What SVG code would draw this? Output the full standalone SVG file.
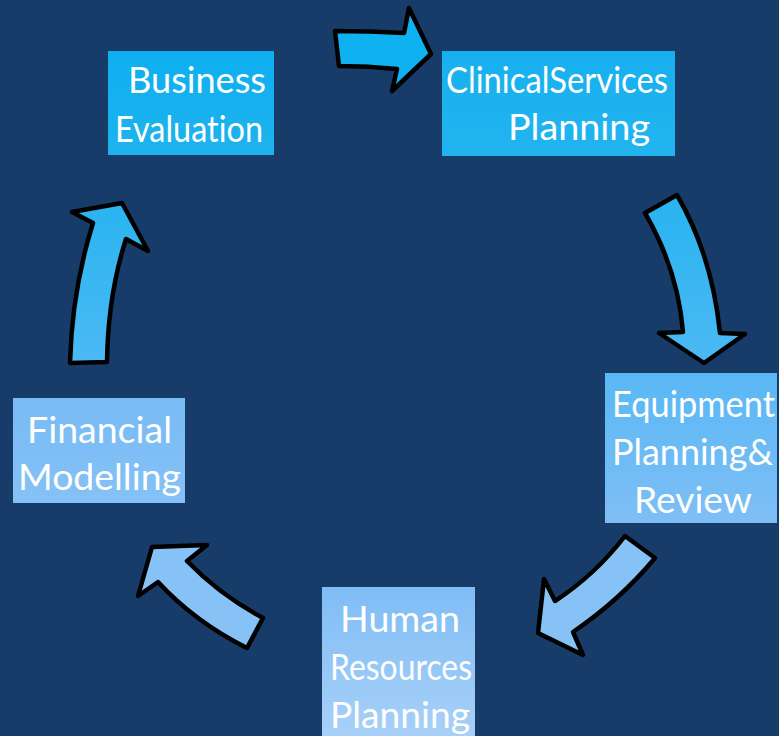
<svg xmlns="http://www.w3.org/2000/svg" width="779" height="736" viewBox="0 0 779 736">
<defs>
<linearGradient id="gBiz" x1="0" y1="0" x2="0" y2="1"><stop offset="0" stop-color="#0eaff0"/><stop offset="1" stop-color="#1eb3ee"/></linearGradient>
<linearGradient id="gClin" x1="0" y1="0" x2="0" y2="1"><stop offset="0" stop-color="#17b0ef"/><stop offset="1" stop-color="#22b4ef"/></linearGradient>
<linearGradient id="gEq" x1="0" y1="0" x2="0" y2="1"><stop offset="0" stop-color="#58b8f5"/><stop offset="1" stop-color="#7fbef5"/></linearGradient>
<linearGradient id="gHr" x1="0" y1="0" x2="0" y2="1"><stop offset="0" stop-color="#7fbdf5"/><stop offset="1" stop-color="#a8d0f8"/></linearGradient>
<linearGradient id="gFin" x1="0" y1="0" x2="0" y2="1"><stop offset="0" stop-color="#79bbf5"/><stop offset="1" stop-color="#84c1f6"/></linearGradient>
<linearGradient id="gA2" x1="0" y1="0" x2="0" y2="1"><stop offset="0" stop-color="#28b3f0"/><stop offset="1" stop-color="#4cb9f4"/></linearGradient>
<linearGradient id="gA5" x1="0" y1="0" x2="0" y2="1"><stop offset="0" stop-color="#2ab4f0"/><stop offset="1" stop-color="#4bb9f4"/></linearGradient>
</defs>
<style>
.lbl{font-family:Lato,"Open Sans","Liberation Sans",sans-serif;font-size:36px;fill:#ffffff;font-variant-ligatures:none;font-feature-settings:"liga" 0;}
.arr{stroke:#000000;stroke-width:4.5;stroke-linejoin:round;}
</style>
<rect width="779" height="736" fill="#183c69"/>
<g id="connectors">
<path class="arr" fill="#10b1f0" d="M335,31 Q370,31 404,33 L409,8 L431,54 L392,91 L397,69 Q368,66 339,66 Z"/>
<path class="arr" fill="url(#gA2)" d="M645,213 L677,195 Q712,255 720,333 L745,334 L704,363 L659,333 L683,332 Q678,270 645,213 Z"/>
<path class="arr" fill="#86c2f6" d="M625,536 L655,558 Q620,600 573,632 L583,655 L538,633 L544,579 L555,601 Q595,575 625,536 Z"/>
<path class="arr" fill="#86c2f6" d="M152,547 L207,545 L187,561 Q220,595 263,618 L247,648 Q195,622 158,582 L138,596 Z"/>
<path class="arr" fill="url(#gA5)" d="M70,363 L107,362 Q108,295 126,239 L148,251 L122,203 L72,212 L93,223 Q72,290 70,363 Z"/>
</g>
<g id="node-business">
<rect x="108" y="51" width="166" height="104" fill="url(#gBiz)"/>
<text class="lbl" x="128" y="93" textLength="138" lengthAdjust="spacingAndGlyphs">Business</text>
<text class="lbl" x="115" y="142" textLength="148" lengthAdjust="spacingAndGlyphs">Evaluation</text>
</g>
<g id="node-clinical">
<rect x="442" y="51" width="233" height="105" fill="url(#gClin)"/>
<text class="lbl" x="446" y="93" textLength="222" lengthAdjust="spacingAndGlyphs">ClinicalServices</text>
<text class="lbl" x="508" y="140" textLength="142" lengthAdjust="spacingAndGlyphs">Planning</text>
</g>
<g id="node-equipment">
<rect x="605" y="373" width="172" height="150" fill="url(#gEq)"/>
<text class="lbl" x="612" y="417" textLength="163" lengthAdjust="spacingAndGlyphs">Equipment</text>
<text class="lbl" x="612" y="465" textLength="161" lengthAdjust="spacingAndGlyphs">Planning&amp;</text>
<text class="lbl" x="634" y="513" textLength="118" lengthAdjust="spacingAndGlyphs">Review</text>
</g>
<g id="node-hr">
<rect x="322" y="587" width="153" height="149" fill="url(#gHr)"/>
<text class="lbl" x="340" y="632" textLength="120" lengthAdjust="spacingAndGlyphs">Human</text>
<text class="lbl" x="330" y="680" textLength="142" lengthAdjust="spacingAndGlyphs">Resources</text>
<text class="lbl" x="330" y="728" textLength="140" lengthAdjust="spacingAndGlyphs">Planning</text>
</g>
<g id="node-financial">
<rect x="13" y="398" width="172" height="105" fill="url(#gFin)"/>
<text class="lbl" x="27" y="443" textLength="145" lengthAdjust="spacingAndGlyphs">Financial</text>
<text class="lbl" x="18" y="490" textLength="163" lengthAdjust="spacingAndGlyphs">Modelling</text>
</g>
</svg>
